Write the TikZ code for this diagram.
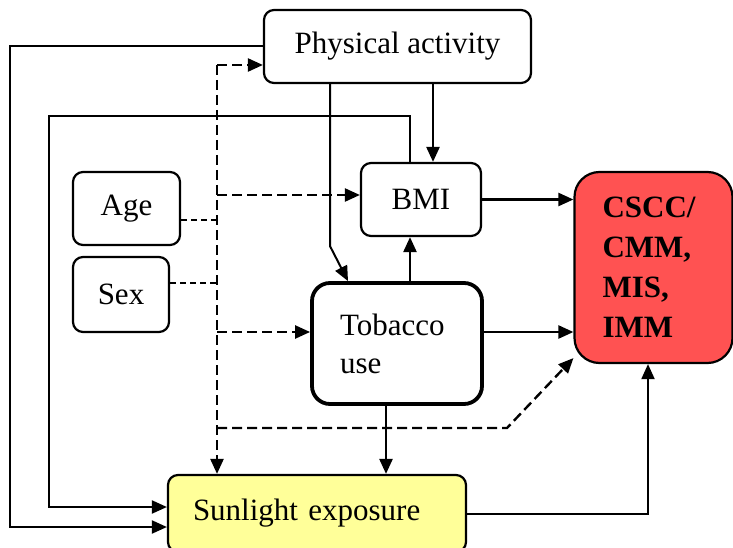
\documentclass[tikz,border=0pt]{standalone}
\usepackage{fontspec}
\setmainfont{Liberation Serif}
\usetikzlibrary{arrows.meta}
\begin{document}
\begin{tikzpicture}[x=1pt,y=-1pt,
  box/.style={draw,line width=2.2pt,rounded corners=10pt,inner sep=0pt,
    font=\fontsize{31}{38}\selectfont},
  tip/.style={-{Triangle[length=15pt,width=13pt]}},
  conn/.style={line width=2.4pt,tip},
  loop/.style={line width=2pt,tip},
  dsh/.style={line width=2.4pt,dash pattern=on 10pt off 5pt,tip},
  thin dsh/.style={line width=1.8pt,dash pattern=on 6pt off 4pt}]
\useasboundingbox (0,0) rectangle (733,548);

% factors
\node[box,minimum width=267pt,minimum height=73pt] (pa) at (397.5,46.5) {Physical activity};
\node[box,minimum width=107pt,minimum height=73pt] (age) at (126.5,208.5) {Age};
\node[box,minimum width=96pt,minimum height=75pt] (sex) at (121,294.5) {Sex};
\node[box,minimum width=120pt,minimum height=73pt] (bmi) at (421,199.5) {BMI};
\node[box,line width=3.8pt,rounded corners=18pt,minimum height=121pt,
  text width=114pt,inner xsep=28pt,align=left] (tob) at (397,343.5) {Tobacco\\use};
\node[box,fill={rgb,255:red,255;green,82;blue,82},rounded corners=25pt,
  minimum height=191pt,text width=102pt,inner xsep=28pt,align=left,
  font=\fontsize{31}{40}\selectfont\bfseries] (out) at (653.5,267.5) {CSCC/\\CMM,\\MIS,\\IMM};
\node[box,fill={rgb,255:red,255;green,255;blue,153},minimum height=77pt,
  text width=248pt,inner xsep=25pt,align=left] (sun) at (317,513.5) {Sunlight exposure};

% solid paths
\draw[loop] (pa.west) -- ++(-253,0) |- ([yshift=-13.5pt]sun.west);
\draw[loop] ([xshift=-11pt]bmi.north) |- (49,116) |- ([yshift=6.5pt]sun.west);
\draw[conn] ([xshift=12pt]bmi.north |- pa.south) -- ([xshift=12pt]bmi.north);
\draw[loop] ([xshift=-67.5pt]pa.south) -- ++(0,162) -- ([xshift=-49pt]tob.north);
\draw[conn] ([xshift=-11pt]bmi.south |- tob.north) -- ([xshift=-11pt]bmi.south);
\draw[conn] (bmi.east) -- (bmi.east -| out.west);
\draw[conn] ([yshift=11.5pt]tob.east) -- ([yshift=11.5pt]tob.east -| out.west);
\draw[conn] ([xshift=-11pt]tob.south) -- ([xshift=-11pt]tob.south |- sun.north);
\draw[loop] (sun.east) -| ([xshift=-5.5pt]out.south);

% confounder paths
\coordinate (trunk) at (217,65);
\coordinate (bend) at (507,428);
\draw[thin dsh] ([yshift=-11.5pt]age.east) -- ([yshift=-11.5pt]age.east -| trunk);
\draw[thin dsh] ([yshift=11.5pt]sex.east) -- ([yshift=11.5pt]sex.east -| trunk);
\draw[dsh] (trunk) -- (trunk -| pa.west);
\draw[dsh] (trunk) -- (trunk |- sun.north);
\draw[dsh] ([yshift=4.5pt]bmi.west -| trunk) -- ([yshift=4.5pt]bmi.west);
\draw[dsh] ([yshift=11.5pt]tob.west -| trunk) -- ([yshift=11.5pt]tob.west);
\draw[dsh] (bend -| trunk) -- (bend) -- ([yshift=6pt]out.south west);
\end{tikzpicture}
\end{document}
